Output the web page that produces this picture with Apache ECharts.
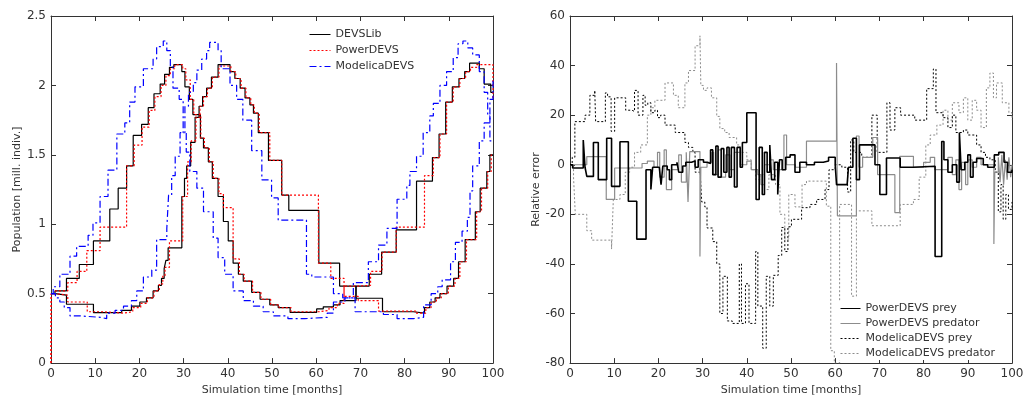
<!DOCTYPE html>
<html><head><meta charset="utf-8">
<script src="https://cdn.jsdelivr.net/npm/echarts@6/dist/echarts.min.js"></script>
<style>html,body{margin:0;padding:0;background:#fff}#c{width:1029px;height:401px}</style>
</head><body><div id="c"></div>
<script>
// ---------- tick / axis settings ----------
const timeRange = [0, 100, 10];
const popRange = [0, 2.5, 0.5];
const errRange = [-80, 60, 20];
const leftLegendNames = ['DEVSLib', 'PowerDEVS', 'ModelicaDEVS'];
const rightLegendNames = ['PowerDEVS prey', 'PowerDEVS predator', 'ModelicaDEVS prey', 'ModelicaDEVS predator'];

// ---------- left panel: populations [time, value] ----------
const devslibPrey = [[0,0.5],[0.9,0.52],[3.5,0.61],[6.4,0.71],[9.6,0.88],[13.3,1.11],[15.2,1.26],[17.1,1.42],[18.6,1.64],[20.5,1.72],[22.0,1.84],[23.3,1.94],[24.7,2.01],[25.7,2.08],[26.8,2.13],[27.8,2.15],[29.6,2.10],[30.3,1.99],[31.3,1.90],[32.1,1.79],[33.8,1.62],[34.5,1.55],[35.6,1.45],[36.5,1.33],[37.8,1.20],[39.0,1.02],[40.1,0.88],[41.2,0.72],[42.4,0.64],[43.5,0.59],[45.4,0.51],[47.3,0.46],[49.5,0.42],[51.4,0.40],[54.1,0.365],[60.1,0.39],[61.6,0.405],[63.9,0.42],[65.4,0.45],[69.0,0.555],[72.0,0.64],[74.8,0.80],[78.1,0.96],[82.7,1.31],[86.3,1.48],[87.8,1.65],[89.3,1.88],[90.8,1.99],[92.3,2.05],[93.6,2.10],[94.7,2.16],[96.9,2.12],[98.0,2.01],[99.5,1.95],[100,1.95]];
const devslibPred = [[0,0.5],[0.9,0.49],[3.5,0.424],[9.6,0.364],[16.0,0.38],[18.2,0.41],[20.1,0.44],[21.6,0.47],[23.1,0.52],[24.3,0.56],[25.0,0.61],[25.6,0.68],[26.0,0.74],[26.5,0.83],[29.6,1.20],[30.2,1.33],[30.7,1.42],[31.6,1.59],[32.6,1.77],[33.5,1.85],[34.3,1.92],[35.2,1.98],[36.3,2.06],[37.8,2.15],[40.5,2.10],[41.6,2.05],[42.8,1.98],[43.9,1.91],[45.0,1.86],[45.8,1.80],[46.9,1.66],[49.2,1.46],[52.2,1.21],[53.8,1.10],[60.6,0.72],[65.3,0.555],[69.0,0.467],[75.0,0.37],[82.0,0.36],[84.5,0.40],[85.7,0.44],[86.9,0.47],[88.0,0.50],[89.6,0.555],[91.1,0.61],[92.2,0.73],[93.7,0.89],[96.0,1.09],[97.1,1.26],[98.6,1.38],[99.3,1.50],[100,1.50]];
const powerdevsPrey = [[0,0],[0.05,0.5],[1.0,0.52],[3.8,0.58],[5.9,0.66],[8.1,0.81],[11.1,0.98],[17.1,1.42],[18.8,1.57],[20.6,1.70],[22.2,1.82],[23.5,1.92],[24.9,2.00],[26.0,2.07],[27.0,2.12],[28.0,2.15],[29.8,2.12],[30.5,2.04],[31.5,1.90],[32.3,1.79],[33.9,1.62],[34.7,1.55],[35.8,1.45],[36.7,1.33],[38.0,1.22],[39.0,1.12],[41.2,0.75],[42.6,0.64],[43.7,0.59],[45.6,0.51],[47.5,0.46],[49.7,0.42],[51.6,0.40],[54.3,0.37],[60.5,0.38],[62.9,0.40],[64.8,0.43],[66.3,0.555],[69.5,0.56],[72.3,0.66],[74.9,0.80],[78.1,0.98],[84.5,1.35],[86.5,1.48],[88.0,1.65],[89.5,1.88],[91.0,1.99],[92.5,2.05],[93.8,2.10],[94.9,2.13],[96.3,2.15],[100,1.90]];
const powerdevsPred = [[0,0],[0.05,0.5],[1.0,0.49],[3.8,0.44],[8.2,0.37],[11.5,0.36],[16.5,0.37],[18.5,0.40],[20.3,0.43],[21.8,0.47],[23.3,0.52],[24.5,0.57],[25.3,0.63],[25.8,0.69],[26.8,0.88],[29.8,1.20],[30.9,1.45],[31.7,1.60],[32.8,1.77],[33.7,1.85],[34.5,1.92],[35.4,1.98],[36.5,2.06],[38.0,2.14],[40.7,2.10],[41.8,2.05],[43.0,1.98],[44.1,1.91],[45.2,1.86],[46.0,1.80],[47.1,1.66],[49.5,1.46],[52.2,1.21],[60.5,0.72],[63.3,0.61],[66.3,0.48],[69.5,0.45],[74.1,0.375],[82.5,0.36],[84.8,0.40],[86.0,0.44],[87.2,0.47],[88.3,0.50],[89.9,0.555],[91.4,0.61],[92.5,0.73],[94.0,0.89],[96.3,1.09],[97.4,1.26],[98.8,1.38],[99.6,1.50],[100,1.50]];
const modelicaPrey = [[0,0.5],[0.5,0.55],[2.0,0.64],[4.3,0.77],[5.8,0.84],[8.4,0.92],[9.5,1.01],[11.1,1.20],[12.9,1.39],[14.9,1.65],[16.7,1.73],[17.8,1.88],[19.0,1.99],[20.9,2.12],[23.1,2.19],[23.9,2.28],[25.4,2.32],[26.2,2.25],[27.0,2.14],[27.6,1.98],[29.0,1.90],[29.9,1.66],[30.6,1.52],[31.4,1.38],[33.0,1.26],[34.5,1.09],[36.7,0.90],[37.8,0.76],[39.3,0.64],[41.2,0.52],[43.5,0.45],[45.8,0.41],[48.0,0.37],[50.3,0.34],[53.6,0.32],[57.4,0.33],[62.5,0.36],[63.9,0.44],[66.5,0.47],[68.4,0.58],[71.8,0.73],[74.1,0.85],[76.0,0.97],[78.3,1.18],[80.5,1.28],[81.2,1.38],[82.7,1.49],[84.2,1.66],[85.7,1.78],[86.5,1.87],[88.0,2.00],[89.5,2.10],[91.0,2.20],[92.1,2.30],[93.2,2.32],[94.3,2.27],[95.4,2.22],[96.9,2.10],[98.0,1.95],[98.8,1.78],[99.3,1.60],[100,1.60]];
const modelicaPred = [[0,0.5],[1.0,0.47],[2.0,0.44],[3.0,0.40],[4.3,0.34],[6.6,0.33],[11.1,0.32],[12.6,0.36],[14.5,0.38],[16.4,0.41],[18.2,0.45],[19.4,0.52],[20.9,0.62],[22.8,0.67],[23.9,0.89],[26.2,0.97],[26.6,1.21],[27.3,1.35],[28.1,1.49],[29.2,1.66],[30.3,1.85],[31.1,1.95],[32.2,2.02],[33.0,2.11],[34.1,2.19],[35.2,2.25],[35.9,2.31],[37.0,2.31],[37.8,2.25],[38.5,2.12],[40.5,2.00],[42.0,1.90],[43.4,1.75],[45.4,1.53],[47.7,1.32],[49.9,1.19],[51.4,1.03],[57.8,0.64],[59.0,0.62],[63.9,0.50],[66.0,0.47],[68.8,0.37],[75.2,0.35],[78.3,0.32],[82.0,0.33],[84.3,0.42],[86.0,0.50],[87.5,0.55],[88.5,0.60],[90.4,0.73],[91.5,0.87],[93.0,0.95],[94.2,1.05],[94.8,1.24],[95.4,1.42],[96.9,1.60],[98.0,1.73],[99.3,1.90],[100,2.05]];

// ---------- right panel: relative error [time, value] ----------
const errPowerPrey = [[0,0],[0.6,-1.3],[3.0,10],[3.4,-1],[3.8,-4.7],[5.3,9],[6.4,-6],[8.3,10.7],[9.4,-8.7],[11.3,9.3],[13.2,-14.7],[15.1,-30],[17.2,-2],[18.3,-10],[18.7,-1],[20.2,-1.5],[20.6,-8],[21.0,-0.5],[22.0,-2],[22.5,-6],[23.0,0],[24.2,1],[24.6,-3],[25.5,-0.5],[26.2,1],[27.5,1.5],[28.3,-1],[29.0,2],[30.2,1],[31.0,0.5],[31.8,6],[32.3,-4],[33.0,7.5],[33.5,-5],[34.2,6.5],[34.8,-3],[35.5,7],[36.0,-5],[36.5,7],[37.2,-9],[37.8,7],[38.5,-1],[39.0,9],[40.0,21],[42.1,-14],[42.8,7],[43.5,-12],[44.0,5],[44.6,-3],[45.2,8],[45.6,-6],[46.3,1],[47.0,-12],[47.4,2],[48.0,-2],[48.8,3],[49.8,4],[50.9,-3],[52.0,1],[53.5,0],[55.3,1],[57.3,1.5],[58.5,3],[60.0,0],[60.3,-8],[62.7,-8],[63.0,-1],[64.0,10.7],[64.8,-6],[65.5,8],[66.7,8],[69.0,0],[70.1,-12],[71.6,2.7],[74.7,-1],[77.7,-0.6],[82.6,-37],[84.1,9.4],[84.6,2],[85.5,-3],[86.5,0],[87.5,-7],[88.1,13],[88.5,-2],[89.3,1],[90.0,4],[90.6,-5],[91.2,1],[92.0,2.5],[93.5,0],[94.5,-1],[96.0,4],[97.0,5],[98.2,1],[99.0,-3],[100,-2]];
const errPowerPred = [[0,0],[3.8,3.3],[8.2,-14],[10.1,-1.3],[16.3,0.5],[17.5,1.5],[19.0,-1],[19.8,5],[20.3,-5],[21.3,6],[21.8,-10],[23.0,-2],[24.6,4],[25.2,-7],[26.3,5],[26.7,-15],[27.1,5.3],[29.4,-37],[29.6,-1],[31.0,1],[32.0,5],[32.5,-4],[33.5,6],[34.3,-5],[35.2,4],[36.2,-2],[37.2,5],[38.5,0],[40.0,1.5],[41.0,-2],[42.5,-4],[43.2,-8],[44.0,0],[45.2,2],[46.0,-2],[48.4,12],[49.0,0],[51.0,-1],[53.5,9.5],[60.3,41],[60.5,-20.6],[64.8,11.6],[65.4,-1],[66.2,3],[68.5,11],[69.6,-4],[71.5,-4],[73.5,-19.3],[74.6,3.4],[77.7,-1],[80.0,1],[81.5,3],[82.5,-2],[85.5,3],[86.5,-4],[87.3,2],[88.0,-10],[88.6,1],[89.5,-8],[90.0,2],[91.0,-1],[92.0,3],[93.0,0],[95.9,-32],[96.1,-3],[96.9,3],[97.3,-7],[97.7,4],[98.1,-8],[98.5,2],[98.9,-6],[99.3,3],[99.7,-5],[100,0]];
const errModelicaPrey = [[0,0],[0.5,3],[1.1,17.4],[3.4,20],[4.5,28],[5.6,30],[5.8,17.4],[7.0,17.4],[8.0,29],[8.5,27.4],[9.3,13.5],[10.1,27],[12.6,22],[14.0,21.5],[14.6,30],[15.4,20],[16.5,28],[17.0,24],[17.6,25],[18.3,21],[19.2,22],[19.8,19],[20.5,20],[21.5,16],[23.8,13],[26.0,9],[26.8,7],[27.8,5],[28.3,-3],[29.4,-1],[29.8,-15],[30.5,-17],[31.0,-25.5],[32.3,-31],[33.2,-40],[33.9,-60],[34.6,-45],[35.6,-63],[36.7,-64],[38.3,-40],[38.8,-64],[39.7,-48],[40.5,-64],[42.0,-35],[42.5,-57],[43.6,-74],[44.4,-45],[45.2,-57],[46.0,-44.6],[47.1,-36.6],[47.9,-25.3],[48.6,-35],[49.3,-25],[50.1,-22],[52.4,-17.3],[54.3,-16],[55.8,-14],[57.7,-10],[58.6,-2],[60.0,0],[61.5,-1],[62.8,-11],[63.5,10],[64.2,5],[66.0,3],[68.3,20],[69.5,5],[71.7,25],[72.4,14],[73.5,23],[74.8,20],[78.0,18],[80.7,30.7],[82.2,38.6],[82.8,21],[84.4,19],[85.5,15],[86.5,20],[87.3,13],[89.0,14],[90.0,12],[92.0,8],[93.0,5],[94.0,3],[95.0,2],[96.2,-3],[96.9,-19],[97.5,-8],[98.0,-22],[98.6,-12],[99.2,-18],[100,-15]];
const errModelicaPred = [[0,0],[0.8,-5],[1.2,-20],[2.6,-20],[3.8,-26.6],[4.9,-30.4],[9.4,-34],[9.8,-14],[11.3,-12],[12.5,-3],[13.5,-1],[14.6,5],[16.0,8],[17.5,20],[18.3,23],[19.2,26],[21.5,33],[23.4,28],[24.5,23],[26.0,33],[26.8,38],[28.3,48],[29.4,52],[29.6,32],[30.2,30],[31.0,31],[32.0,27],[33.2,19.5],[33.9,14.6],[35.0,13],[36.0,11],[37.7,8],[38.5,5],[40.0,2],[41.0,-2],[42.0,-6],[43.0,-4],[44.0,-10],[45.0,-4],[46.5,-8],[47.5,-20],[48.6,-30],[49.5,-12],[50.9,-17],[52.5,-8],[53.5,-6.6],[58.0,-16.7],[59.0,-75],[59.8,-80],[61.0,-16],[63.7,-53],[64.8,-18.6],[68.3,-24.6],[74.7,-16],[77.7,-14],[79.0,-5],[80.5,8],[81.5,12],[83.0,16],[84.4,22],[85.5,18],[86.5,25],[88.0,21],[89.0,27],[90.0,18],[91.0,26],[92.0,22],[93.0,15],[94.2,31],[95.0,37],[95.8,27],[96.5,33],[97.8,25],[99.3,21],[100,18]];

// ---------- chart ----------
const FONT = 'DejaVu Sans';
const AX = '#333';
function xAx(grid, pos, name) {
  return {
    gridIndex: grid, type: 'value', position: pos,
    min: timeRange[0], max: timeRange[1], interval: timeRange[2],
    name: name || '', nameLocation: 'middle', nameGap: 19,
    nameTextStyle: { color: AX, fontSize: 11, fontFamily: FONT },
    axisLine: { show: true, onZero: false, lineStyle: { color: AX, width: 1 } },
    axisTick: { show: true, inside: true, length: 5, lineStyle: { color: AX } },
    axisLabel: { show: pos === 'bottom', color: AX, fontSize: 12, fontFamily: FONT, margin: 5 },
    splitLine: { show: false }
  };
}
function yAx(grid, pos, range, name, gap) {
  return {
    gridIndex: grid, type: 'value', position: pos,
    min: range[0], max: range[1], interval: range[2],
    name: name || '', nameLocation: 'middle', nameGap: gap || 28, nameRotate: 90,
    nameTextStyle: { color: AX, fontSize: 11, fontFamily: FONT },
    axisLine: { show: true, onZero: false, lineStyle: { color: AX, width: 1 } },
    axisTick: { show: true, inside: true, length: 5, lineStyle: { color: AX } },
    axisLabel: { show: pos === 'left', color: AX, fontSize: 12, fontFamily: FONT, margin: 5 },
    splitLine: { show: false }
  };
}
function ser(name, data, idx, color, width, type) {
  return {
    name, type: 'line', data, step: 'end', symbol: 'none', showSymbol: false,
    xAxisIndex: idx, yAxisIndex: idx, silent: true, clip: true,
    lineStyle: { color, width, type }, itemStyle: { color }
  };
}

const chart = echarts.init(document.getElementById('c'));
chart.setOption({
  animation: false,
  backgroundColor: '#fff',
  grid: [
    { left: 51, top: 16, width: 442, height: 350 },
    { left: 570, top: 16, width: 442, height: 350 }
  ],
  xAxis: [
    xAx(0, 'bottom', 'Simulation time [months]'), xAx(0, 'top'),
    xAx(1, 'bottom', 'Simulation time [months]'), xAx(1, 'top')
  ],
  yAxis: [
    yAx(0, 'left', popRange, 'Population [mill. indiv.]', 28), yAx(0, 'right', popRange),
    yAx(1, 'left', errRange, 'Relative error', 27), yAx(1, 'right', errRange)
  ],
  legend: [
    {
      data: leftLegendNames, orient: 'vertical', left: 309, top: 29, padding: 0,
      itemWidth: 21, itemHeight: 10, itemGap: 5,
      itemStyle: { opacity: 0 },
      lineStyle: { width: 1 },
      textStyle: { color: AX, fontSize: 11, fontFamily: FONT }
    },
    {
      data: rightLegendNames, orient: 'vertical', left: 838, top: 302, padding: [1, 3, 1, 2],
      backgroundColor: '#fff',
      itemWidth: 20, itemHeight: 10, itemGap: 4,
      itemStyle: { opacity: 0 },
      lineStyle: { width: 1 },
      textStyle: { color: AX, fontSize: 11, fontFamily: FONT }
    }
  ],
  series: [
    ser('DEVSLib', devslibPrey, 0, '#000', 1.2, 'solid'),
    ser('DEVSLib', devslibPred, 0, '#000', 1.2, 'solid'),
    ser('PowerDEVS', powerdevsPrey, 0, '#ff0000', 1.2, [2, 2]),
    ser('PowerDEVS', powerdevsPred, 0, '#ff0000', 1.2, [2, 2]),
    ser('ModelicaDEVS', modelicaPrey, 0, '#0000ff', 1.2, [7, 3, 2, 3]),
    ser('ModelicaDEVS', modelicaPred, 0, '#0000ff', 1.2, [7, 3, 2, 3]),
    ser('ModelicaDEVS predator', errModelicaPred, 2, '#8c8c8c', 1, [2, 2]),
    ser('ModelicaDEVS prey', errModelicaPrey, 2, '#000', 1, [2, 2]),
    ser('PowerDEVS predator', errPowerPred, 2, '#8c8c8c', 1.2, 'solid'),
    ser('PowerDEVS prey', errPowerPrey, 2, '#000', 1.6, 'solid')
  ]
});
</script>
</body></html>
